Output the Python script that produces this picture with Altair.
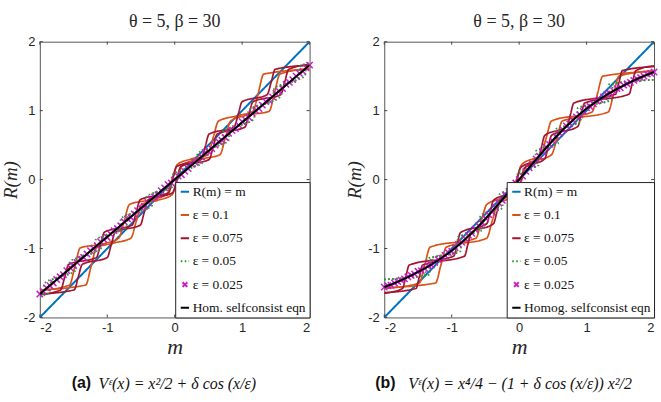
import altair as alt
import pandas as pd

# ---------------- data ----------------
TICKS = [-2, -1, 0, 1, 2]
TITLE = "θ = 5, β = 30"
LABELS_A = ["R(m) = m", "ε = 0.1", "ε = 0.075", "ε = 0.05", "ε = 0.025", "Hom. selfconsist eqn"]
LABELS_B = ["R(m) = m", "ε = 0.1", "ε = 0.075", "ε = 0.05", "ε = 0.025", "Homog. selfconsist eqn"]
COLORS = ["#0072BD", "#D95319", "#A2142F", "#2E9A2E", "#C71FC7", "#000000"]
DASHES = [[1, 0], [1, 0], [1, 0], [1.6, 2.4], [1, 0], [1, 0]]
XPATH = "M-1,-1L1,1M1,-1L-1,1"

IDENTITY = [(-2.0, -2.0), (2.0, 2.0)]

# panel (a)
HOM_A = [(-2.0, -1.66), (2.0, 1.66)]
ORANGE_A_UP = [(-2.0, -1.60), (-1.32, -1.53), (-1.24, -1.26), (-1.16, -0.99), (-0.95, -0.93),
               (-0.65, -0.85), (-0.57, -0.605), (-0.49, -0.36), (-0.25, -0.30), (-0.04, -0.22),
               (0.04, 0.0), (0.12, 0.22), (0.40, 0.30), (0.67, 0.36), (0.75, 0.605), (0.83, 0.85),
               (1.05, 0.93), (1.40, 0.99), (1.48, 1.26), (1.56, 1.53), (2.0, 1.61)]
ORANGE_A_DN = [(-2.0, -1.61), (-1.56, -1.53), (-1.48, -1.26), (-1.40, -0.99), (-1.05, -0.93),
               (-0.83, -0.85), (-0.75, -0.605), (-0.67, -0.36), (-0.40, -0.30), (-0.12, -0.22),
               (-0.04, 0.0), (0.04, 0.22), (0.25, 0.30), (0.49, 0.36), (0.57, 0.605), (0.65, 0.85),
               (0.95, 0.93), (1.16, 0.99), (1.24, 1.26), (1.32, 1.53), (2.0, 1.60)]
DARKRED_A_UP = [(-2.0, -1.66), (-1.49, -1.60), (-1.43, -1.41), (-1.37, -1.23), (-1.00, -1.13),
                (-0.94, -0.94), (-0.88, -0.76), (-0.51, -0.66), (-0.45, -0.47), (-0.39, -0.29),
                (-0.03, -0.19), (0.03, 0.0), (0.09, 0.19), (0.51, 0.29), (0.57, 0.47), (0.63, 0.66),
                (1.04, 0.76), (1.10, 0.94), (1.16, 1.13), (1.57, 1.23), (1.63, 1.41), (1.69, 1.60),
                (2.0, 1.67)]
DARKRED_A_DN = [(-2.0, -1.67), (-1.69, -1.60), (-1.63, -1.41), (-1.57, -1.23), (-1.16, -1.13),
                (-1.10, -0.94), (-1.04, -0.76), (-0.63, -0.66), (-0.57, -0.47), (-0.51, -0.29),
                (-0.09, -0.19), (-0.03, 0.0), (0.03, 0.19), (0.39, 0.29), (0.45, 0.47), (0.51, 0.66),
                (0.88, 0.76), (0.94, 0.94), (1.00, 1.13), (1.37, 1.23), (1.43, 1.41), (1.49, 1.60),
                (2.0, 1.66)]
GREEN_A_UP = [(-2.0, -1.695), (-1.853, -1.636), (-1.833, -1.465), (-1.474, -1.322), (-1.454, -1.151),
              (-1.095, -1.008), (-1.075, -0.837), (-0.717, -0.694), (-0.697, -0.523), (-0.338, -0.380),
              (-0.318, -0.209), (0.04, -0.066), (0.06, 0.105), (0.418, 0.248), (0.438, 0.419),
              (0.797, 0.562), (0.817, 0.733), (1.175, 0.876), (1.195, 1.047), (1.554, 1.190),
              (1.574, 1.361), (1.933, 1.504), (1.953, 1.675), (2.0, 1.695)]
GREEN_A_DN = [(-2.0, -1.695), (-1.953, -1.675), (-1.933, -1.504), (-1.574, -1.361), (-1.554, -1.190),
              (-1.195, -1.047), (-1.175, -0.876), (-0.817, -0.733), (-0.797, -0.562), (-0.438, -0.419),
              (-0.418, -0.248), (-0.06, -0.105), (-0.04, 0.066), (0.318, 0.209), (0.338, 0.380),
              (0.697, 0.523), (0.717, 0.694), (1.075, 0.837), (1.095, 1.008), (1.454, 1.151),
              (1.474, 1.322), (1.833, 1.465), (1.853, 1.636), (2.0, 1.695)]

# panel (b)
HOM_B = [(-2.0, -1.56), (-1.75, -1.46), (-1.5, -1.34), (-1.25, -1.20), (-1.0, -1.03), (-0.75, -0.82),
         (-0.5, -0.57), (-0.25, -0.29), (0.0, 0.0), (0.25, 0.29), (0.5, 0.57), (0.75, 0.82),
         (1.0, 1.03), (1.25, 1.20), (1.5, 1.34), (1.75, 1.46), (2.0, 1.56)]
ORANGE_B_UP = [(-2.0, -1.57), (-1.24, -1.50), (-1.16, -1.24), (-1.08, -0.98), (-0.48, -0.85),
               (-0.40, -0.60), (-0.32, -0.36), (-0.04, -0.22), (0.04, 0.0), (0.12, 0.22),
               (0.48, 0.36), (0.56, 0.60), (0.64, 0.85), (1.32, 0.98), (1.40, 1.24), (1.48, 1.50),
               (2.0, 1.58)]
ORANGE_B_DN = [(-2.0, -1.58), (-1.48, -1.50), (-1.40, -1.24), (-1.32, -0.98), (-0.64, -0.85),
               (-0.56, -0.60), (-0.48, -0.36), (-0.12, -0.22), (-0.04, 0.0), (0.04, 0.22),
               (0.32, 0.36), (0.40, 0.60), (0.48, 0.85), (1.08, 0.98), (1.16, 1.24), (1.24, 1.50),
               (2.0, 1.57)]
DARKRED_B_UP = [(-2.0, -1.64), (-1.53, -1.58), (-1.48, -1.41), (-1.43, -1.24), (-0.81, -1.11),
                (-0.76, -0.94), (-0.71, -0.77), (-0.38, -0.64), (-0.33, -0.47), (-0.28, -0.30),
                (-0.02, -0.17), (0.03, 0.0), (0.08, 0.17), (0.38, 0.30), (0.43, 0.47), (0.48, 0.64),
                (0.87, 0.77), (0.92, 0.94), (0.97, 1.11), (1.63, 1.24), (1.68, 1.41), (1.73, 1.58),
                (2.0, 1.65)]
DARKRED_B_DN = [(-2.0, -1.65), (-1.73, -1.58), (-1.68, -1.41), (-1.63, -1.24), (-0.97, -1.11),
                (-0.92, -0.94), (-0.87, -0.77), (-0.48, -0.64), (-0.43, -0.47), (-0.38, -0.30),
                (-0.08, -0.17), (-0.03, 0.0), (0.02, 0.17), (0.28, 0.30), (0.33, 0.47), (0.38, 0.64),
                (0.71, 0.77), (0.76, 0.94), (0.81, 1.11), (1.43, 1.24), (1.48, 1.41), (1.53, 1.58),
                (2.0, 1.64)]
GREEN_B_UP = [(-2.0, -1.448), (-1.33, -1.381), (-1.31, -1.143), (-0.87, -1.040), (-0.85, -0.817),
              (-0.535, -0.730), (-0.515, -0.503), (-0.25, -0.416), (-0.23, -0.190), (0.02, -0.103),
              (0.04, 0.123), (0.29, 0.211), (0.31, 0.437), (0.575, 0.521), (0.595, 0.748),
              (0.91, 0.832), (0.93, 1.055), (1.37, 1.151), (1.39, 1.387), (2.0, 1.448)]
GREEN_B_DN = [(-2.0, -1.448), (-1.39, -1.387), (-1.37, -1.151), (-0.93, -1.055), (-0.91, -0.832),
              (-0.595, -0.748), (-0.575, -0.521), (-0.31, -0.437), (-0.29, -0.211), (-0.04, -0.123),
              (-0.02, 0.103), (0.23, 0.190), (0.25, 0.416), (0.515, 0.503), (0.535, 0.730),
              (0.85, 0.817), (0.87, 1.040), (1.31, 1.143), (1.33, 1.381), (2.0, 1.448)]

# epsilon = 0.025 markers
M_GRID = [-2.00, -1.95, -1.90, -1.85, -1.80, -1.75, -1.70, -1.65, -1.60, -1.55, -1.50, -1.45, -1.40,
          -1.35, -1.30, -1.25, -1.20, -1.15, -1.10, -1.05, -1.00, -0.95, -0.90, -0.85, -0.80, -0.75,
          -0.70, -0.65, -0.60, -0.55, -0.50, -0.45, -0.40, -0.35, -0.30, -0.25, -0.20, -0.15, -0.10,
          -0.05, 0.00, 0.05, 0.10, 0.15, 0.20, 0.25, 0.30, 0.35, 0.40, 0.45, 0.50, 0.55, 0.60, 0.65,
          0.70, 0.75, 0.80, 0.85, 0.90, 0.95, 1.00, 1.05, 1.10, 1.15, 1.20, 1.25, 1.30, 1.35, 1.40,
          1.45, 1.50, 1.55, 1.60, 1.65, 1.70, 1.75, 1.80, 1.85, 1.90, 1.95, 2.00]
MAG_A = [-1.66, -1.62, -1.57, -1.54, -1.50, -1.45, -1.41, -1.38, -1.32, -1.28, -1.25, -1.20, -1.15,
         -1.13, -1.08, -1.03, -1.00, -0.96, -0.90, -0.87, -0.84, -0.79, -0.74, -0.71, -0.67, -0.61,
         -0.57, -0.55, -0.50, -0.45, -0.41, -0.39, -0.33, -0.28, -0.25, -0.22, -0.16, -0.12, -0.07,
         -0.05, 0.00, 0.05, 0.07, 0.12, 0.16, 0.22, 0.25, 0.28, 0.33, 0.39, 0.41, 0.45, 0.50, 0.55,
         0.57, 0.61, 0.67, 0.71, 0.74, 0.79, 0.84, 0.87, 0.90, 0.96, 1.00, 1.03, 1.08, 1.13, 1.15,
         1.20, 1.25, 1.28, 1.32, 1.38, 1.41, 1.45, 1.50, 1.54, 1.57, 1.62, 1.66]
MAG_B = [-1.56, -1.54, -1.53, -1.50, -1.48, -1.46, -1.44, -1.41, -1.39, -1.37, -1.33, -1.32, -1.29,
         -1.25, -1.24, -1.20, -1.16, -1.14, -1.10, -1.06, -1.04, -0.99, -0.94, -0.91, -0.86, -0.81,
         -0.78, -0.72, -0.67, -0.63, -0.56, -0.51, -0.47, -0.40, -0.34, -0.30, -0.22, -0.17, -0.12,
         -0.05, 0.00, 0.05, 0.12, 0.17, 0.22, 0.30, 0.34, 0.40, 0.47, 0.51, 0.56, 0.63, 0.67, 0.72,
         0.78, 0.81, 0.86, 0.91, 0.94, 0.99, 1.04, 1.06, 1.10, 1.14, 1.16, 1.20, 1.24, 1.25, 1.29,
         1.32, 1.33, 1.37, 1.39, 1.41, 1.44, 1.46, 1.48, 1.50, 1.53, 1.54, 1.56]

CAP_A_TAG, CAP_A_EQ = "(a)", "Vᵋ(x) = x²/2 + δ cos (x/ε)"
CAP_B_TAG, CAP_B_EQ = "(b)", "Vᵋ(x) = x⁴/4 − (1 + δ cos (x/ε)) x²/2"

W, H = 271, 277


def build_panel(labels, hom, orange, darkred, green, mag, cap_tag, cap_eq, tag_x, eq_x):
    rows = []

    def add(series, branch, pts):
        for i, (m, r) in enumerate(pts):
            rows.append({"m": m, "R": r, "series": series, "branch": branch, "i": i})

    add(labels[0], "id", IDENTITY)
    add(labels[1], "up", orange[0]); add(labels[1], "dn", orange[1])
    add(labels[2], "up", darkred[0]); add(labels[2], "dn", darkred[1])
    add(labels[3], "up", green[0]); add(labels[3], "dn", green[1])
    add(labels[5], "hom", hom)
    df = pd.DataFrame(rows)
    dfm = pd.DataFrame({"m": M_GRID, "R": mag, "series": labels[4]})

    mag_label = labels[4]
    sym_shape = "datum.value === '%s' ? '%s' : 'stroke'" % (mag_label, XPATH)
    sym_size = "datum.value === '%s' ? 22 : 70" % mag_label
    leg = alt.Legend(title=None, orient="bottom-right", offset=0, labelFont="Liberation Serif",
                     labelFontSize=13.5, labelColor="#111", symbolSize={"expr": sym_size},
                     symbolStrokeWidth=2, padding=3, rowPadding=8.3, labelOffset=1,
                     strokeColor="#222", fillColor="white", symbolType={"expr": sym_shape})
    sc_x = alt.Scale(domain=[-2, 2], nice=False)
    sc_y = alt.Scale(domain=[-2, 2], nice=False)
    ax_x = alt.Axis(values=TICKS, title="m", labelExpr="'' + datum.value", titleFontSize=22,
                    labelPadding=4, titlePadding=2)
    ax_y = alt.Axis(values=TICKS, title="R(m)", labelExpr="'' + datum.value", titleFontSize=19,
                    labelPadding=5, titlePadding=3)
    X = alt.X("m:Q", scale=sc_x, axis=ax_x)
    Y = alt.Y("R:Q", scale=sc_y, axis=ax_y)
    color = alt.Color("series:N", scale=alt.Scale(domain=labels, range=COLORS), legend=leg)
    dash = alt.StrokeDash("series:N", scale=alt.Scale(domain=labels, range=DASHES), legend=leg)

    base = alt.Chart(df)

    def line(s, width):
        return base.transform_filter(alt.datum.series == s).mark_line(
            strokeWidth=width, interpolate="monotone", clip=True
        ).encode(x=X, y=Y, color=color, strokeDash=dash, detail="branch:N", order="i:Q")

    layers = [
        line(labels[0], 2.0),
        line(labels[1], 1.7),
        line(labels[2], 1.7),
        line(labels[3], 1.8),
        alt.Chart(dfm).mark_point(
            shape=XPATH, size=40, strokeWidth=1.5, filled=False, opacity=1
        ).encode(x=X, y=Y, color=color),
        line(labels[5], 2.0),
    ]

    tx = pd.DataFrame({"m": TICKS})
    ty = pd.DataFrame({"R": TICKS})
    tick = dict(color="#444", strokeWidth=1)
    layers += [
        alt.Chart(tx).mark_rule(**tick).encode(x=X, y=alt.value(H), y2=alt.value(H - 3)),
        alt.Chart(tx).mark_rule(**tick).encode(x=X, y=alt.value(0), y2=alt.value(3)),
        alt.Chart(ty).mark_rule(**tick).encode(y=Y, x=alt.value(0), x2=alt.value(3)),
        alt.Chart(ty).mark_rule(**tick).encode(y=Y, x=alt.value(W), x2=alt.value(W - 3)),
    ]

    layers += [
        alt.Chart(pd.DataFrame({"t": [cap_tag]})).mark_text(
            font="Liberation Sans", fontWeight="bold", fontSize=16, align="left", baseline="middle",
            color="#111"
        ).encode(x=alt.value(tag_x), y=alt.value(343), text="t:N"),
        alt.Chart(pd.DataFrame({"t": [cap_eq]})).mark_text(
            font="Liberation Serif", fontStyle="italic", fontSize=16, align="left", baseline="middle",
            color="#111"
        ).encode(x=alt.value(eq_x), y=alt.value(344), text="t:N"),
    ]

    return alt.layer(*layers).properties(
        width=W, height=H, title=alt.TitleParams(TITLE, frame="group", offset=5)
    )


pa = build_panel(LABELS_A, HOM_A, (ORANGE_A_UP, ORANGE_A_DN), (DARKRED_A_UP, DARKRED_A_DN),
                 (GREEN_A_UP, GREEN_A_DN), MAG_A, CAP_A_TAG, CAP_A_EQ, 32, 59)
pb = build_panel(LABELS_B, HOM_B, (ORANGE_B_UP, ORANGE_B_DN), (DARKRED_B_UP, DARKRED_B_DN),
                 (GREEN_B_UP, GREEN_B_DN), MAG_B, CAP_B_TAG, CAP_B_EQ, -9, 24)

chart = alt.hconcat(pa, pb, spacing=28).resolve_scale(
    color="independent", strokeDash="independent"
).configure(
    padding={"left": 0, "top": 11, "right": 0, "bottom": 0}
).configure_view(
    stroke="#555", strokeWidth=1
).configure_axis(
    domain=False, ticks=False, grid=False, labelFont="Liberation Sans", labelFontSize=13,
    labelColor="#262626", titleFont="Liberation Serif", titleFontStyle="italic",
    titleFontWeight="normal", titleColor="#262626"
).configure_title(
    font="Liberation Serif", fontSize=18, fontWeight="normal", color="#262626"
)

chart.save("out.html", embed_options={"renderer": "svg", "actions": False})
